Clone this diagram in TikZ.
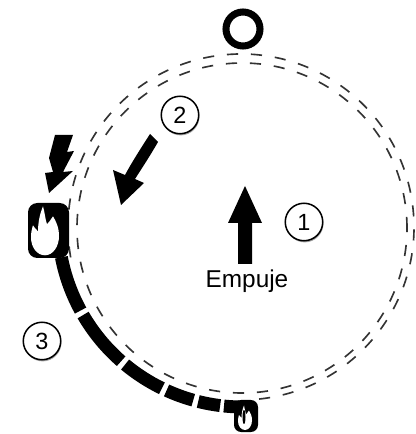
\documentclass[tikz,border=0pt]{standalone}
\usepackage{fontspec}
\setmainfont{Liberation Sans}
\usepackage{tikz}
\usetikzlibrary{shadows}
\newcommand{\flameshape}{%
  \fill[white] (-2,27) .. controls (0,20) and (0,15) .. (2,9) .. controls (4,11) and (6,14) .. (8,17)
    .. controls (11,12) and (14,6) .. (14,-3) .. controls (14,-13) and (8,-22) .. (0,-22)
    .. controls (-8,-22) and (-14,-14) .. (-14,-4) .. controls (-14,1) and (-13,5) .. (-12,8)
    .. controls (-11,6) and (-9,4) .. (-7,2) .. controls (-7,11) and (-5,20) .. (-2,27) -- cycle;
}
\tikzset{
  numcircle/.style={circle,draw=black,line width=1.3pt,fill=white,minimum size=32pt,inner sep=0pt,font=\fontsize{20}{20}\selectfont,
    drop shadow={shadow xshift=0.6pt,shadow yshift=-1.4pt,opacity=0.35,fill=black}},
  dashline/.style={line width=1.4pt,dash pattern=on 9.5pt off 11pt,black!80},
}
\begin{document}
\begin{tikzpicture}[scale=0.03]
\useasboundingbox (0,0) rectangle (416,434);
% Orbit
\draw[dashline] (242,206) circle (165);
\draw[dashline] (241,207) ++(-84:173) arc (-84:192:173);
\draw[black,line width=6pt] (243,405) circle (17);
% Fuel strip
\foreach \a/\b in {191/208.6,210.2/228.8,230.4/244,245.6/254.4,256/262.9,264.1/272}
  \draw[black,line width=11pt] (243,212) ++(\a:185) arc (\a:\b:185);
% Big burner
\fill[black,rounded corners=8] (28,176) rectangle (69,231);
\begin{scope}[shift={(45,200.7)}]
  \flameshape
\end{scope}
% Small burner
\fill[black,rounded corners=6] (234,2) rectangle (258,34);
\begin{scope}[shift={(245,15)},scale=0.5]
  \flameshape
\end{scope}
\fill[black] (244,17) ellipse (1.5 and 7);
% Igniter bolt
\fill[black] (55,299) -- (73,299) -- (67,282) -- (74,283) -- (63,262) -- (73,263)
  -- (49,241) -- (45,261) -- (53,262) -- (49,276) -- cycle;
% Thrust
\fill[black] (238,170) -- (252,170) -- (252,211) -- (262,211) -- (245,248) -- (228,211) -- (238,211) -- cycle;
\node[font=\fontsize{20.8}{20.8}\selectfont] (thrust) at (247,153) {Empuje};
% Rotation
\fill[black] (150,300) -- (158,292) .. controls (150,278) and (142,266) .. (135,255)
  -- (144,251) -- (121,229) -- (113,264) -- (125,259) .. controls (132,272) and (141,286) .. (150,300) -- cycle;
% Numbers
\node[numcircle] (one) at (304,212) {1};
\node[numcircle] (two) at (180,319) {2};
\node[numcircle] (three) at (42,93) {3};
\end{tikzpicture}
\end{document}
